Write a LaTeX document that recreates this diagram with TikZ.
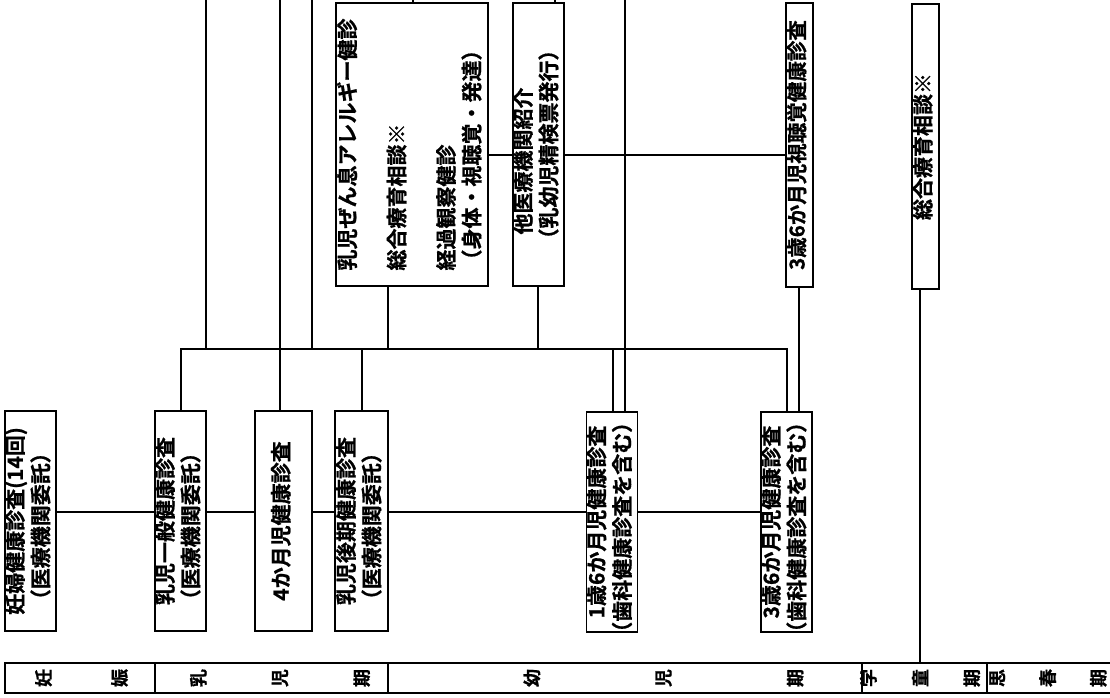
\documentclass[tikz,border=0pt]{standalone}
\usepackage{fontspec}
\usepackage{graphicx}
\newfontfamily\jp{Noto Sans CJK JP Bold}[FakeBold=0.8]
\newcommand{\vtxt}[2][c]{\rotatebox{90}{\begin{tabular}{@{}#1@{}}#2\end{tabular}}}
\newcommand{\rc}[1]{\rotatebox{90}{#1}}
\newcommand{\lp}{\hspace{-0.5em}（}
\newcommand{\rp}{）\hspace{-0.5em}}
\tikzset{
  box/.style={draw, line width=1.6pt, inner sep=0pt, font=\jp\fontsize{21}{25}\selectfont},
  boldbox/.style={box, line width=2.6pt},
  conn/.style={line width=1.6pt},
  bandtxt/.style={font=\jp\fontsize{18}{18}\selectfont, inner sep=0pt},
}
\begin{document}
\begin{tikzpicture}[x=1pt,y=-1pt]
\useasboundingbox (0,0) rectangle (1110,697);
\fill[white] (0,0) rectangle (1110,697);

% boxes of the lower row
\node[box, minimum width=51pt, minimum height=220pt] (ninpu) at (30.5,521) {\vtxt{妊婦健康診査(14回)\\\lp 医療機関委託\rp}};
\node[box, minimum width=51pt, minimum height=220pt] (nyuji1) at (180.5,521) {\vtxt{乳児一般健康診査\\\lp 医療機関委託\rp}};
\node[box, minimum width=57pt, minimum height=220pt] (m4) at (283.5,521) {\vtxt{4か月児健康診査}};
\node[box, minimum width=53pt, minimum height=220pt] (koki) at (361.5,521) {\vtxt{乳児後期健康診査\\\lp 医療機関委託\rp}};
\node[box, minimum width=50pt, minimum height=220pt] (y16) at (612,522) {\vtxt{1歳6か月児健康診査\\\lp 歯科健康診査を含む\rp}};
\node[box, minimum width=49pt, minimum height=220pt] (y36) at (786.5,522) {\vtxt{3歳6か月児健康診査\\\lp 歯科健康診査を含む\rp}};

% boxes of the upper row
\node[box, minimum width=152pt, minimum height=283pt] (zensoku) at (412,144.5) {\vtxt[l]{乳児ぜん息アレルギー健診\\[24pt]総合療育相談※\\[24pt]経過観察健診\\（身体・視聴覚・発達）}};
\node[box, minimum width=51pt, minimum height=283pt] (tairyo) at (538.5,144.5) {\vtxt[l]{\hspace{15pt}他医療機関紹介\\（乳幼児精検票発行）}};
\node[box, minimum width=27pt, minimum height=284pt] (shichou) at (799.5,145) {\vtxt{\fontsize{20.5}{25}\selectfont 3歳6か月児視聴覚健康診査}};
\node[boldbox, minimum width=27pt, minimum height=285pt] (sougou) at (925.5,146.5) {\vtxt{総合療育相談※}};

% helper coordinates
\coordinate (tl) at (0,512);
\coordinate (bus) at (0,349);
\coordinate (lnk) at (0,155);
\coordinate (busL) at (181,349);
\coordinate (busR) at (787,349);
\coordinate (k362) at (362,349);
\coordinate (z388) at (388,349);
\coordinate (a538) at (538,349);
\coordinate (b613) at (613,349);
\coordinate (c799) at (799,412);
\coordinate (t206) at (206,-3);
\coordinate (t280) at (280,-3);
\coordinate (t312) at (312,-3);
\coordinate (t413) at (413,-3);
\coordinate (t555) at (555,-3);
\coordinate (t625) at (625,-3);
\coordinate (s920) at (920,663);

% main time line
\draw[conn] (ninpu.east |- tl) -- (nyuji1.west |- tl);
\draw[conn] (nyuji1.east |- tl) -- (m4.west |- tl);
\draw[conn] (m4.east |- tl) -- (koki.west |- tl);
\draw[conn] (koki.east |- tl) -- (y16.west |- tl);
\draw[conn] (y16.east |- tl) -- (y36.west |- tl);

% bus
\draw[conn] (nyuji1.north -| busL) -- (busL) -- (busR) -- (y36.north -| busR);
\draw[conn] (koki.north -| k362) -- (k362);
\draw[conn] (z388) -- (zensoku.south -| z388);
\draw[conn] (a538) -- (tairyo.south -| a538);
\draw[conn] (b613) -- (y16.north -| b613);

% lines from above
\draw[conn] (t206) -- (t206 |- bus);
\draw[conn] (t280) -- (m4.north -| t280);
\draw[conn] (t312) -- (t312 |- bus);
\draw[conn] (t625) -- (y16.north -| t625);
\draw[conn] (t413) -- (zensoku.north -| t413);
\draw[conn] (t555) -- (tairyo.north -| t555);

% side links
\draw[conn] (zensoku.east |- lnk) -- (tairyo.west |- lnk);
\draw[conn] (tairyo.east |- lnk) -- (shichou.west |- lnk);
\draw[conn] (shichou.south -| c799) -- (y36.north -| c799);
\draw[conn] (sougou.south -| s920) -- (s920);

% period band
\draw[line width=1.6pt] (5,663) rectangle (1116,693);
\foreach \xx in {155,388,862,987} \draw[line width=1.6pt] (\xx,663) -- (\xx,693);
\node[bandtxt] (p1) at (81.5,678) {\rc{妊}\hspace{59pt}\rc{娠}};
\node[bandtxt] (p2) at (280,678) {\rc{乳}\hspace{65pt}\rc{児}\hspace{65pt}\rc{期}};
\node[bandtxt] (p3) at (663.5,678) {\rc{幼}\hspace{115pt}\rc{児}\hspace{115pt}\rc{期}};
\node[bandtxt] (p4) at (920,678) {\rc{学}\hspace{35pt}\rc{童}\hspace{35pt}\rc{期}};
\node[bandtxt] (p5) at (1048,678) {\rc{思}\hspace{34pt}\rc{春}\hspace{34pt}\rc{期}};
\end{tikzpicture}
\end{document}
